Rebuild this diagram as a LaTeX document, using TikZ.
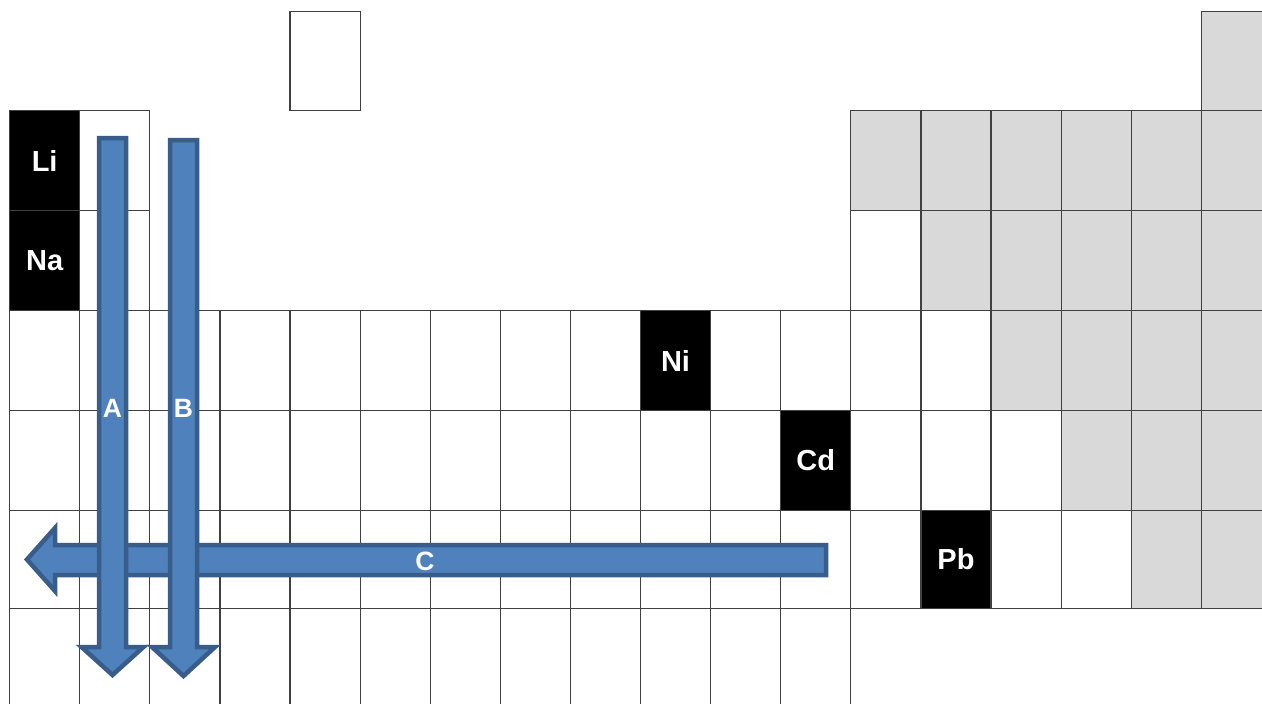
\documentclass[tikz,border=0pt]{standalone}
\usepackage{fontspec}
\setmainfont{Liberation Sans}
\definecolor{gridline}{HTML}{404040}
\definecolor{graycell}{HTML}{D9D9D9}
\definecolor{arrowfill}{HTML}{4F81BD}
\definecolor{arrowline}{HTML}{385D8A}
% row tops and heights of the table (1 unit = 1pt, y downwards)
\def\rowtops{{11,110,210,310,410,510,608}}
\def\rowhts{{99,100,100,100,100,98,98}}
\newcommand\ptcell[4]{%
  \pgfmathsetmacro\ptcx{9+70.1*(#2-1)}%
  \pgfmathsetmacro\ptcy{\rowtops[#1-1]}%
  \pgfmathsetmacro\ptch{\rowhts[#1-1]}%
  \node[cell,#3,minimum height=\ptch pt] (r#1c#2) at (\ptcx,\ptcy) {#4};}
\tikzset{
  cell/.style={draw=gridline, line width=1.2pt, minimum width=70.1pt,
    inner sep=0pt, anchor=north west, fill=white},
  grey/.style={fill=graycell},
  elem/.style={fill=black, text=white,
    font=\fontsize{29}{29}\selectfont\bfseries},
  blockarrow/.style={fill=arrowfill, draw=arrowline, line width=4.5pt,
    line join=miter},
  lab/.style={text=white, inner sep=0pt,
    font=\fontsize{26.5}{26.5}\selectfont\bfseries}
}
\begin{document}
\begin{tikzpicture}[x=1pt,y=-1pt]
\useasboundingbox (0,0) rectangle (1262,704);
\clip (0,0) rectangle (1262,704);
% row 1
\ptcell{1}{5}{}{}
\ptcell{1}{18}{grey}{}
% row 2
\ptcell{2}{1}{elem}{Li}
\ptcell{2}{2}{}{}
\foreach \c in {13,14,15,16,17,18} {\ptcell{2}{\c}{grey}{}}
% row 3
\ptcell{3}{1}{elem}{Na}
\ptcell{3}{2}{}{}
\ptcell{3}{13}{}{}
\foreach \c in {14,15,16,17,18} {\ptcell{3}{\c}{grey}{}}
% row 4
\foreach \c in {1,2,3,4,5,6,7,8,9,11,12,13,14} {\ptcell{4}{\c}{}{}}
\ptcell{4}{10}{elem}{Ni}
\foreach \c in {15,16,17,18} {\ptcell{4}{\c}{grey}{}}
% row 5
\foreach \c in {1,2,3,4,5,6,7,8,9,10,11,13,14,15} {\ptcell{5}{\c}{}{}}
\ptcell{5}{12}{elem}{Cd}
\foreach \c in {16,17,18} {\ptcell{5}{\c}{grey}{}}
% row 6
\foreach \c in {1,2,3,4,5,6,7,8,9,10,11,12,13,15,16} {\ptcell{6}{\c}{}{}}
\ptcell{6}{14}{elem}{Pb}
\foreach \c in {17,18} {\ptcell{6}{\c}{grey}{}}
% row 7
\foreach \c in {1,2,3,4,5,6,7,8,9,10,11,12} {\ptcell{7}{\c}{}{}}

% block arrow C (pointing left)
\draw[blockarrow] (826,545) -- (55,545) -- (55,528) -- (27,559.5)
  -- (55,591) -- (55,575) -- (826,575) -- cycle;
% block arrow A (pointing down)
\draw[blockarrow] (99,138) -- (126,138) -- (126,647) -- (143.5,647)
  -- (112.5,675) -- (81.5,647) -- (99,647) -- cycle;
% block arrow B (pointing down)
\draw[blockarrow] (170,140) -- (197,140) -- (197,647) -- (215,647)
  -- (183.5,676) -- (152,647) -- (170,647) -- cycle;

\node[lab] (labA) at (112.5,408) {A};
\node[lab] (labB) at (183.5,408) {B};
\node[lab] (labC) at (425,561) {C};
\end{tikzpicture}
\end{document}
